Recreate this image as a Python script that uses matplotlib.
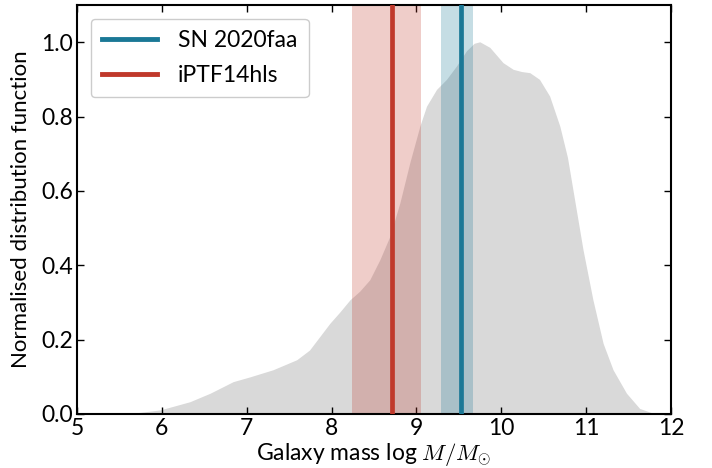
import numpy as np
import matplotlib
matplotlib.use("Agg")
import matplotlib.pyplot as plt

# KDE of galaxy masses
mass_x = [5.4, 5.62, 5.98, 6.33, 6.57, 6.84, 7.04, 7.31, 7.59, 7.74, 7.98, 8.1,
          8.216, 8.33, 8.45, 8.569, 8.687, 8.805, 8.922, 9.04, 9.119, 9.237,
          9.354, 9.472, 9.59, 9.68, 9.747, 9.865, 10.02, 10.14, 10.24, 10.336,
          10.45, 10.57, 10.69, 10.78, 10.85, 10.963, 11.08, 11.2, 11.317, 11.475,
          11.63, 11.79, 12.0]
mass_y = [0.0, 0.001, 0.011, 0.033, 0.056, 0.087, 0.100, 0.119, 0.146, 0.172,
          0.244, 0.275, 0.307, 0.33, 0.361, 0.415, 0.478, 0.568, 0.676, 0.774,
          0.828, 0.873, 0.900, 0.936, 0.977, 0.997, 1.001, 0.986, 0.945, 0.927,
          0.921, 0.918, 0.900, 0.855, 0.774, 0.69, 0.595, 0.442, 0.307, 0.19,
          0.119, 0.056, 0.015, 0.002, 0.0]

sn_names = ["SN 2020faa", "iPTF14hls"]
sn_mass = [9.52, 8.71]
sn_lo = [9.29, 8.235]
sn_hi = [9.67, 9.05]
sn_colors = ["#1a7896", "#c0392b"]

plt.rcParams['font.family'] = ['Lato', 'DejaVu Sans']
plt.rcParams['mathtext.fontset'] = 'cm'

fig = plt.figure(figsize=(7.12, 4.68), dpi=100)
ax = fig.add_axes([77/712, 54/468, 594/712, 409/468])

ax.fill_between(mass_x, mass_y, 0, color="#d9d9d9", lw=0, zorder=1)
for name, m, lo, hi, c in zip(sn_names, sn_mass, sn_lo, sn_hi, sn_colors):
    ax.axvspan(lo, hi, color=c, alpha=0.25, lw=0, zorder=2)
    ax.axvline(m, color=c, lw=3.4, label=name, zorder=3)

ax.set_xlim(5, 12)
ax.set_ylim(0, 1.1)
ax.set_xticks(range(5, 13))
ax.set_yticks([0, 0.2, 0.4, 0.6, 0.8, 1.0])
ax.set_yticklabels(["0.0", "0.2", "0.4", "0.6", "0.8", "1.0"])
ax.tick_params(direction='in', top=True, right=True, labelsize=16.5, length=5, width=1, pad=3)
for s in ax.spines.values():
    s.set_linewidth(1.5)
ax.set_xlabel(r"Galaxy mass log $M/M_{\odot}$", fontsize=16.5, labelpad=1)
ax.set_ylabel("Normalised distribution function", fontsize=16, labelpad=7)
leg = ax.legend(loc='upper left', fontsize=16.5, handlelength=2.4, borderpad=0.5,
                labelspacing=0.6, handletextpad=0.9, fancybox=True, framealpha=1,
                borderaxespad=0.6)
for l in leg.get_lines():
    l.set_linewidth(3.5)

fig.savefig("out.png", dpi=100)
